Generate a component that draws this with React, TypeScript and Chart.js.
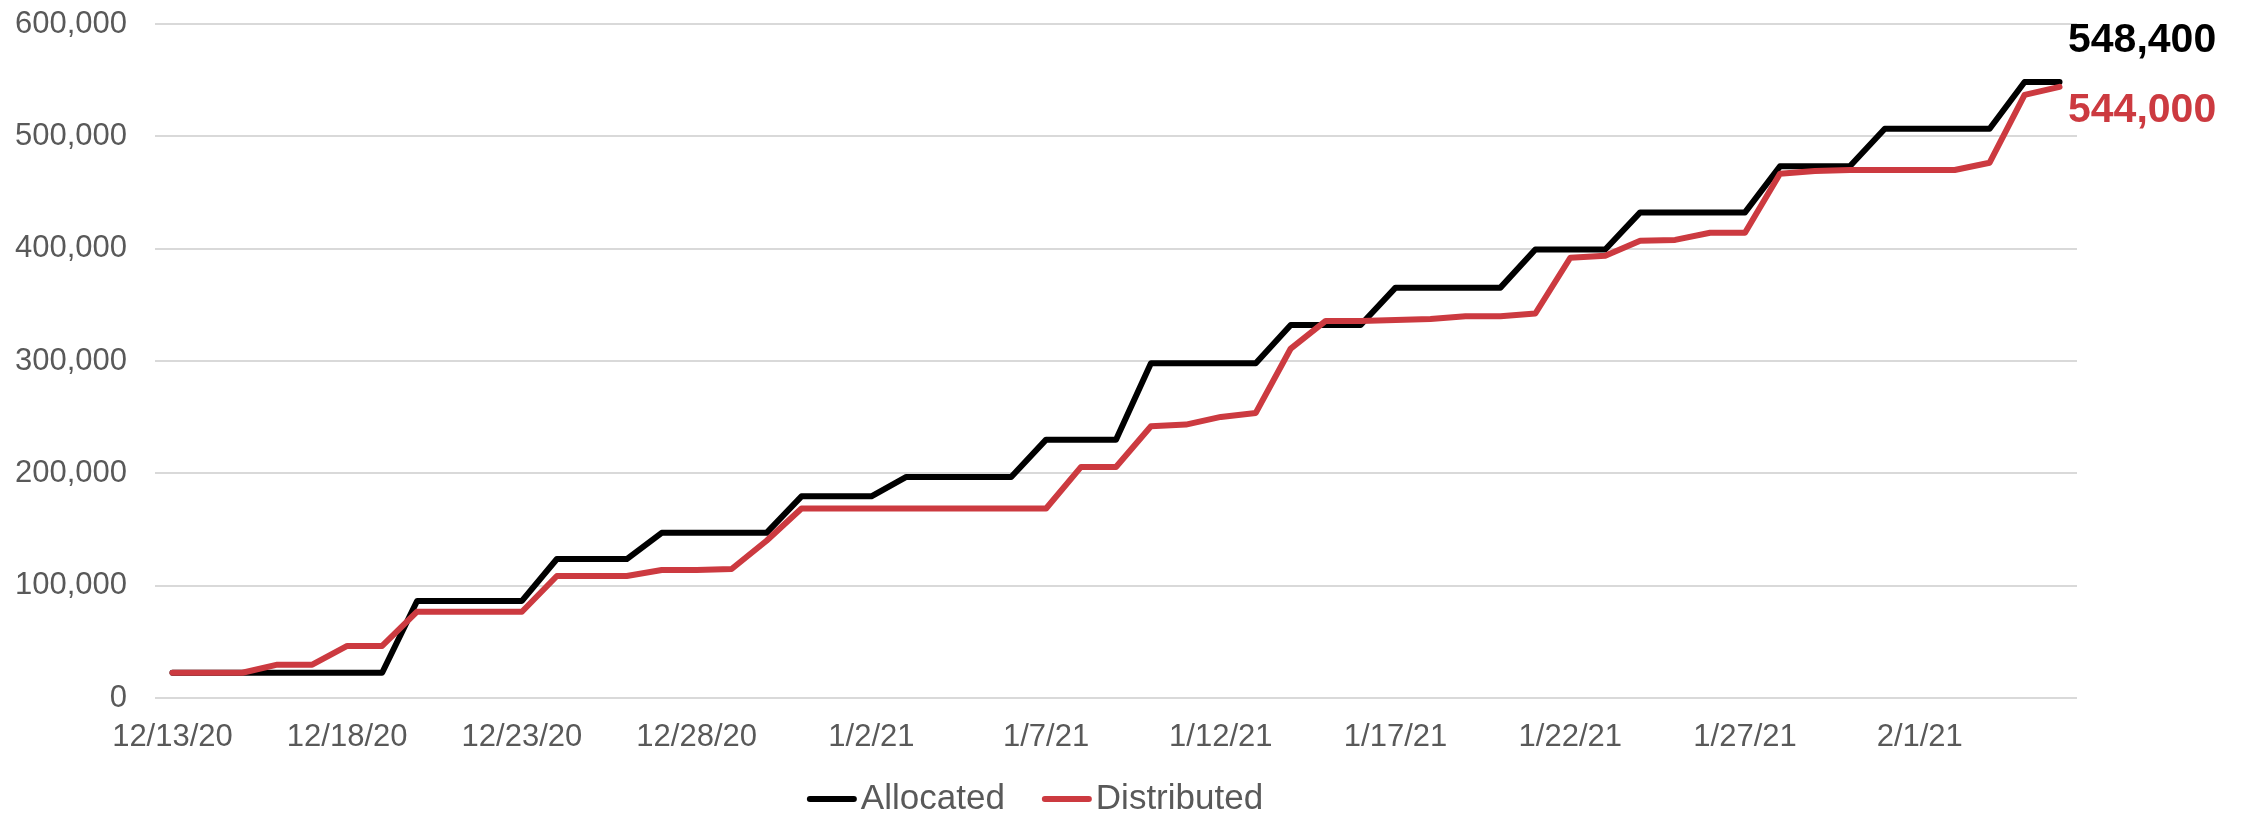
import React, { useEffect, useRef } from "react";
import { Chart, registerables } from "chart.js";

Chart.register(...registerables);

const categories = [
  "12/13/20", "12/14/20", "12/15/20", "12/16/20", "12/17/20", "12/18/20", "12/19/20",
  "12/20/20", "12/21/20", "12/22/20", "12/23/20", "12/24/20", "12/25/20", "12/26/20",
  "12/27/20", "12/28/20", "12/29/20", "12/30/20", "12/31/20", "1/1/21", "1/2/21",
  "1/3/21", "1/4/21", "1/5/21", "1/6/21", "1/7/21", "1/8/21", "1/9/21", "1/10/21",
  "1/11/21", "1/12/21", "1/13/21", "1/14/21", "1/15/21", "1/16/21", "1/17/21",
  "1/18/21", "1/19/21", "1/20/21", "1/21/21", "1/22/21", "1/23/21", "1/24/21",
  "1/25/21", "1/26/21", "1/27/21", "1/28/21", "1/29/21", "1/30/21", "1/31/21",
  "2/1/21", "2/2/21", "2/3/21", "2/4/21", "2/5/21",
];

const tickLabels = [
  "12/13/20", "12/18/20", "12/23/20", "12/28/20", "1/2/21", "1/7/21",
  "1/12/21", "1/17/21", "1/22/21", "1/27/21", "2/1/21",
];

const allocated = [
  22500, 22500, 22500, 22500, 22500, 22500, 22500,
  86400, 86400, 86400, 86400,
  123700, 123700, 123700,
  147000, 147000, 147000, 147000,
  179500, 179500, 179500,
  196800, 196800, 196800, 196800,
  230000, 230000, 230000,
  298000, 298000, 298000, 298000,
  332000, 332000, 332000,
  365300, 365300, 365300, 365300,
  399300, 399300, 399300,
  432300, 432300, 432300, 432300,
  473300, 473300, 473300,
  506800, 506800, 506800, 506800,
  548400, 548400,
];

const distributed = [
  22500, 22500, 22500, 29700, 29700, 46400, 46400,
  76800, 76800, 76800, 76800,
  108600, 108600, 108600, 113900, 113900, 114800, 140000,
  168700, 168700, 168700, 168700, 168700, 168700, 168700, 168700,
  205700, 205700, 241900, 243400, 250200, 253800, 311100,
  335700, 335700, 336500, 337300, 339900, 339900, 342300,
  391900, 393700, 407100, 407800, 414200, 414200,
  466700, 469100, 470000, 470000, 470000, 470000, 476500,
  536900, 544000,
];

const seriesNames = ["Allocated", "Distributed"];
const seriesColors = ["#000000", "#CC3A40"];
const yTicks = [0, 100000, 200000, 300000, 400000, 500000, 600000];

const FONT = '"Liberation Sans", Arial, sans-serif';
const GREY = "#595959";

const endLabelOffsets = [-41, 24];

const endLabels = {
  id: "endLabels",
  afterDatasetsDraw(chart: any) {
    const { ctx, chartArea, scales } = chart;
    const y = scales.y;
    chart.data.datasets.forEach((ds: any, i: number) => {
      const v = ds.data[ds.data.length - 1];
      const py = y.getPixelForValue(v) + endLabelOffsets[i];
      ctx.save();
      ctx.font = `bold 41px ${FONT}`;
      ctx.fillStyle = ds.borderColor;
      ctx.textAlign = "left";
      ctx.textBaseline = "middle";
      ctx.fillText(v.toLocaleString("en-US"), chartArea.right - 9, py);
      ctx.restore();
    });
  },
};

const customLegend = {
  id: "customLegend",
  afterDraw(chart: any) {
    const { ctx } = chart;
    const lineLen = 50;
    const gapText = 4;
    const itemGap = 37;
    ctx.save();
    ctx.font = `35px ${FONT}`;
    const items = chart.data.datasets.map((ds: any) => ({
      label: ds.label,
      color: ds.borderColor,
      w: lineLen + gapText + ctx.measureText(ds.label).width,
    }));
    const total = items.reduce((s: number, it: any) => s + it.w, 0) + itemGap * (items.length - 1);
    const centerX = (chart.chartArea.left + chart.chartArea.right) / 2 - 81;
    const cy = chart.height - 18;
    let x = centerX - total / 2;
    items.forEach((it: any) => {
      ctx.strokeStyle = it.color;
      ctx.lineWidth = 6;
      ctx.lineCap = "round";
      ctx.beginPath();
      ctx.moveTo(x + 3, cy);
      ctx.lineTo(x + lineLen - 3, cy);
      ctx.stroke();
      ctx.fillStyle = GREY;
      ctx.textAlign = "left";
      ctx.textBaseline = "middle";
      ctx.fillText(it.label, x + lineLen + gapText, cy);
      x += it.w + itemGap;
    });
    ctx.restore();
  },
};

export default function App() {
  const ref = useRef<HTMLCanvasElement>(null);

  useEffect(() => {
    if (!ref.current) return;
    const chart = new Chart(ref.current, {
      type: "line",
      data: {
        labels: categories,
        datasets: [
          {
            label: seriesNames[0],
            data: allocated,
            borderColor: seriesColors[0],
            backgroundColor: seriesColors[0],
            borderWidth: 6,
            pointRadius: 0,
            tension: 0,
            borderCapStyle: "round",
            borderJoinStyle: "round",
            order: 1,
          },
          {
            label: seriesNames[1],
            data: distributed,
            borderColor: seriesColors[1],
            backgroundColor: seriesColors[1],
            borderWidth: 6,
            pointRadius: 0,
            tension: 0,
            borderCapStyle: "round",
            borderJoinStyle: "round",
            order: 0,
          },
        ],
      },
      options: {
        animation: false,
        responsive: false,
        maintainAspectRatio: false,
        layout: { padding: { left: 15, right: 171, top: 24, bottom: 61 } },
        plugins: {
          legend: { display: false },
          tooltip: { enabled: false },
        },
        scales: {
          x: {
            type: "category",
            offset: true,
            grid: { display: false, drawTicks: false },
            border: { display: false },
            afterFit: (axis: any) => {
              axis.height = 58;
            },
            ticks: {
              autoSkip: false,
              maxRotation: 0,
              minRotation: 0,
              padding: 21,
              color: GREY,
              font: { family: FONT, size: 31 },
              callback: function (this: any, value: any) {
                const lbl = this.getLabelForValue(value);
                return tickLabels.includes(lbl) ? lbl : "";
              },
            },
          },
          y: {
            min: yTicks[0],
            max: yTicks[yTicks.length - 1],
            grid: { color: "#D9D9D9", lineWidth: 2, drawTicks: false },
            border: { display: false },
            afterBuildTicks: (axis: any) => {
              axis.ticks = yTicks.map((v) => ({ value: v }));
            },
            afterFit: (axis: any) => {
              axis.width = 140;
              axis.paddingTop = 0;
              axis.paddingBottom = 0;
            },
            ticks: {
              padding: 28,
              color: GREY,
              font: { family: FONT, size: 31 },
              callback: (v: any) => Number(v).toLocaleString("en-US"),
            },
          },
        },
      },
      plugins: [endLabels, customLegend],
    });
    return () => chart.destroy();
  }, []);

  return (
    <div style={{ position: "absolute", left: 0, top: 0, width: 2248, height: 817, background: "#fff" }}>
      <canvas ref={ref} width={2248} height={817} />
    </div>
  );
}
